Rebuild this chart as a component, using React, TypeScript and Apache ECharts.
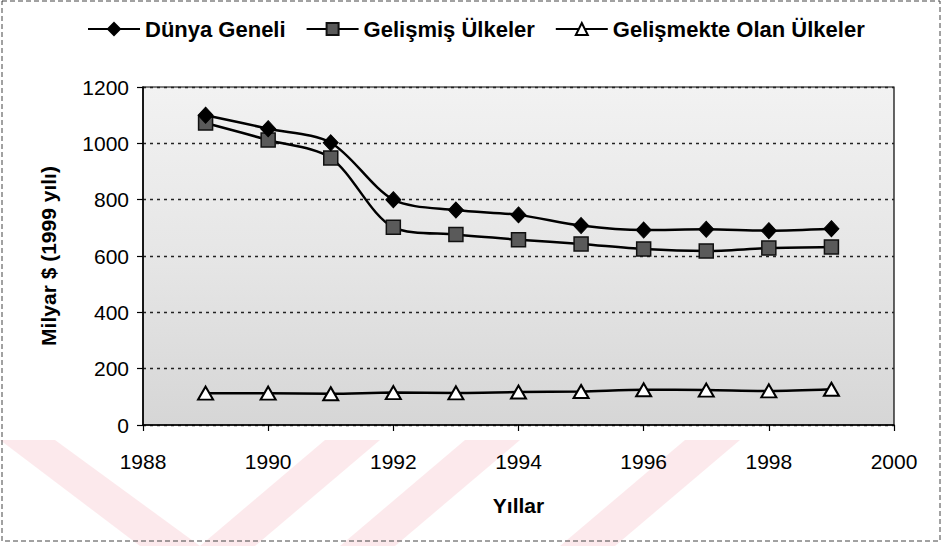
import React, { useEffect, useRef } from "react";
import * as echarts from "echarts";

const years = [1989, 1990, 1991, 1992, 1993, 1994, 1995, 1996, 1997, 1998, 1999];
const dunyaGeneli = [1100, 1052, 1002, 800, 763, 746, 708, 692, 695, 690, 697];
const gelismisUlkeler = [1072, 1012, 948, 702, 676, 658, 643, 625, 618, 628, 632];
const gelismekteOlanUlkeler = [113, 113, 111, 115, 114, 117, 119, 125, 124, 121, 127];
const seriesNames = ["Dünya Geneli", "Gelişmiş Ülkeler", "Gelişmekte Olan Ülkeler"];
const xAxisTitle = "Yıllar";
const yAxisTitle = "Milyar $ (1999 yılı)";

const FONT = "'Liberation Sans', Arial, sans-serif";

function pairs(vals: number[]) {
  return years.map((y, i) => [y, vals[i]]);
}

export default function App() {
  const ref = useRef<HTMLDivElement>(null);
  useEffect(() => {
    if (!ref.current) return;
    const chart = echarts.init(ref.current, undefined, { renderer: "svg" });
    const pink = "rgba(246, 196, 204, 0.38)";
    chart.setOption({
      animation: false,
      backgroundColor: "#ffffff",
      textStyle: { fontFamily: FONT, color: "#000" },
      graphic: [
        { type: "polygon", z: -10, shape: { points: [[0, 440], [55, 440], [200, 546], [140, 546]] }, style: { fill: pink } },
        { type: "polygon", z: -10, shape: { points: [[200, 546], [255, 546], [380, 440], [325, 440]] }, style: { fill: pink } },
        { type: "polygon", z: -10, shape: { points: [[340, 546], [395, 546], [520, 440], [465, 440]] }, style: { fill: pink } },
        { type: "polygon", z: -10, shape: { points: [[560, 546], [615, 546], [740, 440], [685, 440]] }, style: { fill: pink } },
        { type: "rect", z: 100, shape: { x: 2, y: 1, width: 938, height: 540 }, style: { fill: "none", stroke: "#444", lineWidth: 1, lineDash: [5, 3] } },
      ],
      legend: {
        top: 13,
        left: 82,
        itemWidth: 52,
        itemHeight: 15,
        itemGap: 20,
        textStyle: { fontFamily: FONT, fontSize: 22, fontWeight: "bold", color: "#000" },
        data: seriesNames,
      },
      grid: {
        left: 143,
        right: 48,
        top: 87,
        bottom: 121,
        show: true,
        borderColor: "#000",
        borderWidth: 1.2,
        backgroundColor: {
          type: "linear", x: 0, y: 0, x2: 0, y2: 1,
          colorStops: [
            { offset: 0, color: "#f2f2f2" },
            { offset: 0.5, color: "#e6e6e6" },
            { offset: 1, color: "#d6d6d6" },
          ],
        },
      },
      xAxis: {
        type: "value",
        min: 1988,
        max: 2000,
        interval: 2,
        name: xAxisTitle,
        nameLocation: "middle",
        nameGap: 70,
        nameTextStyle: { fontFamily: FONT, fontSize: 21, fontWeight: "bold", color: "#000" },
        axisLine: { show: true, lineStyle: { color: "#000", width: 1.5 } },
        axisTick: { show: true, length: 6, lineStyle: { color: "#000", width: 1.2 } },
        axisLabel: { fontFamily: FONT, fontSize: 21, color: "#000", margin: 26, formatter: (v: number) => String(v) },
        splitLine: { show: false },
      },
      yAxis: {
        type: "value",
        min: 0,
        max: 1200,
        interval: 200,
        name: yAxisTitle,
        nameLocation: "middle",
        nameGap: 84,
        nameTextStyle: { fontFamily: FONT, fontSize: 21, fontWeight: "bold", color: "#000" },
        axisLine: { show: true, lineStyle: { color: "#000", width: 1.5 } },
        axisTick: { show: true, length: 6, lineStyle: { color: "#000", width: 1.2 } },
        axisLabel: { fontFamily: FONT, fontSize: 21, color: "#000", margin: 14, formatter: (v: number) => String(v) },
        splitLine: { show: true, lineStyle: { color: "#222", width: 1.4, type: [3, 4] } },
      },
      series: [
        {
          name: seriesNames[0],
          type: "line",
          data: pairs(dunyaGeneli),
          smooth: 0.3,
          symbol: "diamond",
          symbolSize: [15, 16],
          lineStyle: { color: "#000", width: 2.5 },
          itemStyle: { color: "#000", borderColor: "#000", borderWidth: 1 },
          z: 5,
        },
        {
          name: seriesNames[1],
          type: "line",
          data: pairs(gelismisUlkeler),
          smooth: 0.3,
          symbol: "rect",
          symbolSize: 14,
          lineStyle: { color: "#000", width: 2.5 },
          itemStyle: { color: "#5a5a5a", borderColor: "#111", borderWidth: 1.5 },
          z: 4,
        },
        {
          name: seriesNames[2],
          type: "line",
          data: pairs(gelismekteOlanUlkeler),
          smooth: 0.3,
          symbol: "triangle",
          symbolSize: [15, 13],
          lineStyle: { color: "#000", width: 2.5 },
          itemStyle: { color: "#fff", borderColor: "#000", borderWidth: 2 },
          z: 3,
        },
      ],
    });
    return () => chart.dispose();
  }, []);
  return (
    <div
      ref={ref}
      style={{ position: "fixed", left: 0, top: 0, width: 942, height: 546 }}
    />
  );
}
